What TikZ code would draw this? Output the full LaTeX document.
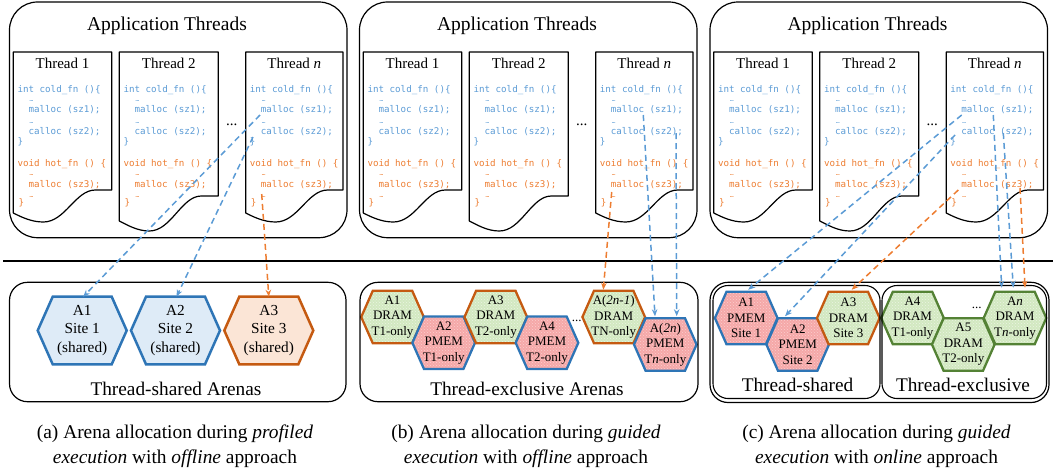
\documentclass[tikz,border=0pt]{standalone}
\usepackage{fontspec}
\setmainfont{Liberation Serif}
\newfontfamily\codefont{DejaVu Sans Mono}
\usetikzlibrary{arrows.meta,patterns,backgrounds,calc}
\definecolor{cblue}{HTML}{5B9BD5}
\definecolor{corange}{HTML}{ED7D31}
\definecolor{bblue}{HTML}{2E75B6}
\definecolor{borange}{HTML}{C55A11}
\definecolor{bgreen}{HTML}{548235}
\definecolor{fblue}{HTML}{DEEBF7}
\definecolor{forange}{HTML}{FBE5D6}
\definecolor{fgreen}{HTML}{D2E8C1}
\definecolor{fred}{HTML}{F5A8A8}
\tikzset{
 panelbox/.style={draw=black, line width=1.2pt, rounded corners=28pt},
 arenabox/.style={draw=black, line width=1.2pt, rounded corners=18pt},
 innerbox/.style={draw=black, line width=1.1pt, rounded corners=15pt},
 docline/.style={draw=black, line width=1.2pt, line join=round},
 codetxt/.style={font=\codefont\fontsize{9.2}{10}\selectfont, anchor=base west, inner sep=0pt},
 elltxt/.style={font=\codefont\fontsize{6}{7}\selectfont, anchor=base west, inner sep=0pt},
 cold/.style={text=cblue}, hot/.style={text=corange},
 titletxt/.style={font=\fontsize{19.5}{22}\selectfont, anchor=base, inner sep=0pt},
 tlabel/.style={font=\fontsize{15}{18}\selectfont, anchor=base, inner sep=0pt},
 dotstxt/.style={font=\fontsize{15}{18}\selectfont, inner sep=0pt},
 smalldots/.style={font=\fontsize{13}{15}\selectfont, inner sep=0pt},
 arenalabel/.style={font=\fontsize{19.3}{22}\selectfont, anchor=base, inner sep=0pt},
 captxt/.style={font=\fontsize{19.4}{25}\selectfont, align=center, inner sep=0pt},
 lnk/.style={dash pattern=on 6pt off 4pt, line width=1.5pt, -{Stealth[length=7pt,width=5.5pt]}},
 coldlink/.style={lnk, draw=cblue},
 hotlink/.style={lnk, draw=corange},
 bighex/.style={minimum width=89pt, minimum height=67.6pt, font=\fontsize{15.3}{18.3}\selectfont},
 smallhex/.style={minimum width=62.6pt, minimum height=52.5pt, font=\fontsize{13}{15.5}\selectfont},
 hextext/.style={inner sep=0pt, outer sep=0pt, align=center},
 hexblue/.style={draw=bblue, fill=fblue, line width=2.5pt},
 hexorange/.style={draw=borange, fill=forange, line width=2.5pt},
 hexred/.style={draw=bblue, line width=2.3pt, preaction={fill=fred}, pattern=crosshatch dots, pattern color=white!45!fred},
 hexgreeno/.style={draw=borange, line width=2.3pt, preaction={fill=fgreen}, pattern=crosshatch dots, pattern color=white!55!fgreen},
 hexgreeng/.style={draw=bgreen, line width=2.3pt, preaction={fill=fgreen}, pattern=crosshatch dots, pattern color=white!55!fgreen},
}
\newcommand{\hexa}[6]{%
  \node[#3, hextext] (#1) at (#2) {#6};
  \begin{pgfonlayer}{background}
    \draw[#5] (#1.west) -- ([xshift=#4]#1.north west) -- ([xshift=-#4]#1.north east) -- (#1.east) -- ([xshift=-#4]#1.south east) -- ([xshift=#4]#1.south west) -- cycle;
  \end{pgfonlayer}}
\newcommand{\threaddoc}[5]{%
  \draw[docline] (#1,52) -- (#2,52) -- (#2,#5) -- (#1+82,#5) .. controls (#1+62,#5) and (#1+52,#4) .. (#1+30,#4) .. controls (#1+18,#4) and (#1+8,#3+4) .. (#1,#3) -- cycle;}
\newcommand{\threadcode}[2]{%
 \node[codetxt,cold] (#1-i) at (#2+4,92.3) {int cold\_fn ()\{};
 \node[elltxt,cold] (#1-e1) at (#2+16,101.5) {…};
 \node[codetxt,cold] (#1-m1) at (#2+15,112.7) {malloc (sz1);};
 \node[elltxt,cold] (#1-e2) at (#2+16,123) {…};
 \node[codetxt,cold] (#1-c) at (#2+15,134.7) {calloc (sz2);};
 \node[codetxt,cold] (#1-b1) at (#2+4,144) {\}};
 \node[codetxt,hot] (#1-v) at (#2+4,166) {void hot\_fn () \{};
 \node[elltxt,hot] (#1-e3) at (#2+16,175.5) {…};
 \node[codetxt,hot] (#1-m3) at (#2+15,187.3) {malloc (sz3);};
 \node[elltxt,hot] (#1-e4) at (#2+16,197) {…};
 \node[codetxt,hot] (#1-b2) at (#2+5,205.5) {\}};}
\newcommand{\upperpanel}[1]{%
 \draw[panelbox] (9.5,2) rectangle (347,237.7);
 \node[titletxt] (#1-title) at (167,30.7) {Application Threads};
 \threaddoc{13.3}{111.7}{213}{222}{190}
 \threaddoc{119.3}{218.3}{221}{231}{196}
 \threaddoc{245.7}{343}{213}{222}{190}
 \node[tlabel] (#1-t1) at (62.5,68.3) {Thread 1};
 \node[tlabel] (#1-t2) at (168.8,68.3) {Thread 2};
 \node[tlabel] (#1-tn) at (294.3,68.3) {Thread \textit{n}};
 \threadcode{#1-1}{13.3}
 \threadcode{#1-2}{119.3}
 \threadcode{#1-n}{245.7}
 \node[dotstxt] (#1-dots) at (231.7,125) {...};}
\begin{document}
\begin{tikzpicture}[x=1pt,y=-1pt]
\useasboundingbox (0,0) rectangle (1057,472);
% upper panels
\begin{scope}\upperpanel{a}\end{scope}
\begin{scope}[xshift=350pt]\upperpanel{b}\end{scope}
\begin{scope}[xshift=700.5pt]\upperpanel{c}\end{scope}
% separator
\draw[line width=2pt] (3,261) -- (1053,261);
% lower boxes
\draw[arenabox] (9.5,282.3) rectangle (346,401.7);
\node[arenalabel] (la) at (176,395) {Thread-shared Arenas};
\draw[arenabox] (360,282.3) rectangle (698,401.7);
\node[arenalabel] (lb) at (527,395) {Thread-exclusive Arenas};
\draw[arenabox] (710,282.3) rectangle (1049,402.5);
\draw[innerbox] (713,285.5) rectangle (880,398.5);
\draw[innerbox] (882,285.5) rectangle (1046.5,398.5);
\node[arenalabel] (lc1) at (797.5,391) {Thread-shared};
\node[arenalabel] (lc2) at (963,391) {Thread-exclusive};
% hexes panel a
\hexa{a1}{82.2,330.5}{bighex}{15pt}{hexblue}{A1\\Site 1\\(shared)}
\hexa{a2}{175.5,330.5}{bighex}{15pt}{hexblue}{A2\\Site 2\\(shared)}
\hexa{a3}{268.8,330.5}{bighex}{15pt}{hexorange}{A3\\Site 3\\(shared)}
% hexes panel b
\hexa{b1}{392.5,317}{smallhex}{11.6pt}{hexgreeno}{A1\\DRAM\\T1-only}
\hexa{b2}{443.7,342.8}{smallhex}{11.6pt}{hexred}{A2\\PMEM\\T1-only}
\hexa{b3}{495.8,317}{smallhex}{11.6pt}{hexgreeno}{A3\\DRAM\\T2-only}
\hexa{b4}{547,342.8}{smallhex}{11.6pt}{hexred}{A4\\PMEM\\T2-only}
\node[smalldots] (bdots) at (576.7,321) {...};
\hexa{b2n1}{613.7,317}{smallhex}{11.6pt}{hexgreeno}{A(\textit{2n-1})\\DRAM\\TN-only}
\hexa{b2n}{665.3,344.5}{smallhex}{11.6pt}{hexred}{A(\textit{2n})\\PMEM\\T\textit{n}-only}
% hexes panel c
\hexa{c1}{746.2,318}{smallhex}{11.6pt}{hexred}{A1\\PMEM\\Site 1}
\hexa{c2}{797.7,344.5}{smallhex}{11.6pt}{hexred}{A2\\PMEM\\Site 2}
\hexa{c3}{848.3,318}{smallhex}{11.6pt}{hexgreeno}{A3\\DRAM\\Site 3}
\hexa{c4}{912.5,318}{smallhex}{11.6pt}{hexgreeng}{A4\\DRAM\\T1-only}
\hexa{c5}{963.3,344.5}{smallhex}{11.6pt}{hexgreeng}{A5\\DRAM\\T2-only}
\node[smalldots] (cdots) at (976.7,308) {...};
\hexa{cn}{1015,318}{smallhex}{11.6pt}{hexgreeng}{A\textit{n}\\DRAM\\T\textit{n}-only}
% arrows panel a
\draw[coldlink] ($(a-n-m1.base west)+(-0.7,2.3)$) -- ([xshift=1pt]a1.north);
\draw[coldlink] ($(a-n-c.base west)+(-7.7,2.3)$) -- ([xshift=1pt]a2.north);
\draw[hotlink] ($(a-n-m3.base west)+(1,6.7)$) -- (a3.north);
% arrows panel b
\draw[hotlink] ($(b-n-m3.base west)+(1,4.7)$) -- ([xshift=-10.4pt,yshift=1pt]b2n1.north);
\draw[coldlink] ($(b-n-m1.base west)+(32.6,2.3)$) -- ([xshift=-10.3pt,yshift=2pt]b2n.north);
\draw[coldlink] ($(b-n-c.base west)+(65.3,-1.7)$) -- ([xshift=11.4pt,yshift=2pt]b2n.north);
% arrows panel c
\draw[coldlink] ($(c-n-m1.base west)+(0.5,2.3)$) -- ([xshift=2pt,yshift=2pt]c1.north);
\draw[coldlink] ($(c-n-c.base west)+(-6.2,0.3)$) -- ([xshift=-12.7pt,yshift=2pt]c2.north);
\draw[hotlink] ($(c-n-m3.base west)+(-2.9,2.7)$) -- ([xshift=3.4pt,yshift=2pt]c3.north);
\draw[coldlink] ($(c-n-m1.base west)+(32.1,2.3)$) -- ([xshift=-13.3pt,yshift=4pt]cn.north);
\draw[coldlink] ($(c-n-c.base west)+(42.1,-1.7)$) -- ([xshift=-1.7pt,yshift=4pt]cn.north);
\draw[hotlink] ($(c-n-m3.base west)+(58.8,0.7)$) -- ([xshift=10pt,yshift=4pt]cn.north);
% captions
\node[captxt] (capa) at (175,446) {(a) Arena allocation during \textit{profiled}\\\textit{execution} with \textit{offline} approach};
\node[captxt] (capb) at (526,446) {(b) Arena allocation during \textit{guided}\\\textit{execution} with \textit{offline} approach};
\node[captxt] (capc) at (876.5,446) {(c) Arena allocation during \textit{guided}\\\textit{execution} with \textit{online} approach};
\end{tikzpicture}
\end{document}
